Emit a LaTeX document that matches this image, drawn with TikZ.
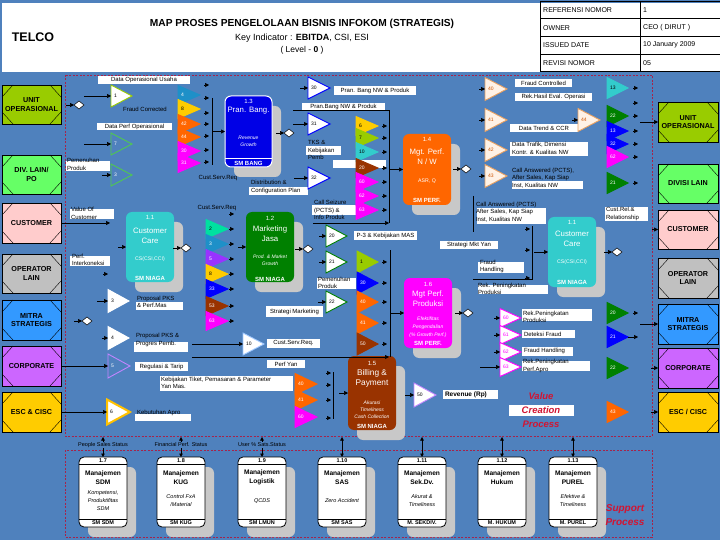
\documentclass[tikz,border=0pt]{standalone}
\usepackage{fontspec}
\setmainfont{Liberation Sans}
\usetikzlibrary{arrows.meta,shapes.geometric}
\definecolor{bgblue}{RGB}{79,129,189}
\definecolor{dashred}{RGB}{165,35,75}
\definecolor{ygreen}{RGB}{153,204,0}
\definecolor{lgreen}{RGB}{102,255,102}
\definecolor{pinkc}{RGB}{255,204,204}
\definecolor{grayc}{RGB}{192,192,192}
\definecolor{mitra}{RGB}{51,153,255}
\definecolor{purp}{RGB}{204,102,255}
\definecolor{goldc}{RGB}{255,204,0}
\definecolor{pblue}{RGB}{0,0,230}
\definecolor{orangec}{RGB}{255,102,0}
\definecolor{tealc}{RGB}{51,204,204}
\definecolor{dgreen}{RGB}{0,128,0}
\definecolor{magc}{RGB}{255,0,255}
\definecolor{brownc}{RGB}{153,51,0}
\definecolor{shadowg}{RGB}{200,200,200}
\definecolor{cyanb}{RGB}{30,144,200}
\definecolor{aquac}{RGB}{0,224,160}
\definecolor{violetc}{RGB}{153,51,255}
\definecolor{bluec}{RGB}{0,0,255}
\definecolor{peach}{RGB}{255,242,230}
\definecolor{tanc}{RGB}{232,160,96}
\definecolor{redtxt}{RGB}{210,20,50}
\definecolor{lgreen2}{RGB}{80,200,80}
\definecolor{lblue}{RGB}{160,200,255}
\newcommand{\entbox}[7]{%
  \path[draw=black,fill=#6,line width=0.7pt] (#2,#3) rectangle (#4,#5);
  \draw[line width=0.4pt] (#2,#3+12) -- (#2+11,#3) (#4-11,#3) -- (#4,#3+12) (#4,#5-12) -- (#4-11,#5) (#2+11,#5) -- (#2,#5-12);
  \coordinate (#1-e) at (#4,{(#3+#5)/2});
  \coordinate (#1-w) at (#2,{(#3+#5)/2});
  \node[enttxt] (#1) at ({(#2+#4)/2},{(#3+#5)/2}) {#7};}
\newcommand{\pbox}[6]{%
  \fill[shadowg,rounded corners=6pt] (#2+9,#3+10) rectangle (#4+9,#5+10);
  \node[#6,rounded corners=6pt,minimum width={#4-#2},minimum height={#5-#3},inner sep=0pt,anchor=north west] (#1) at (#2,#3) {};}
\newcommand{\mtri}[9]{%
  \path[fill=#6,line width=0.9pt,line join=miter,draw=#7] (#2,#3-#5/2) -- (#2+#4,#3) -- (#2,#3+#5/2) -- cycle;
  \coordinate (#1-in) at (#2,#3);
  \coordinate (#1-out) at (#2+#4,#3);
  \node[trilab,text=#8,anchor=west] (#1) at (#2+3,#3) {#9};}
\newcommand{\ctri}[6]{\mtri{#1}{#2}{#3}{22}{19}{#4}{#4}{#5}{#6}}
\newcommand{\arhd}[2]{\draw[arr] (#1-5,#2) -- (#1,#2);}
\newcommand{\supbox}[6]{%
  \fill[shadowg,rounded corners=6pt] (#2+9,467) rectangle (#2+57,537);
  \node[draw=black,fill=white,rounded corners=5pt,line width=0.8pt,minimum width=48,minimum height=70,anchor=north west] (#1) at (#2,457) {};
  \draw[line width=0.7pt] (#2,464) -- (#2+48,464) (#2,519) -- (#2+48,519);
  \node[snum] (#1-n) at (#2+24,460.5) {#3};
  \node[stit] (#1-t) at (#2+24,477.5) {#4};
  \node[smet] (#1-m) at (#2+24,501) {#5};
  \node[sown] (#1-o) at (#2+24,523) {#6};}
\begin{document}
\begin{tikzpicture}[x=1pt,y=-1pt,
  every node/.style={inner sep=0pt,outer sep=0pt},
  lbl/.style={font=\fontsize{6}{7.5}\selectfont,align=center,text=black},
  lbll/.style={font=\fontsize{6}{7.5}\selectfont,align=left,text=black,anchor=west},
  trilab/.style={font=\fontsize{5}{6}\selectfont},
  enttxt/.style={font=\bfseries\fontsize{7.2}{8.8}\selectfont,align=center},
  arr/.style={-{Triangle[length=4pt,width=4pt]},line width=0.6pt},
  dbl/.style={{Triangle[length=3.5pt,width=3.5pt]}-{Triangle[length=3.5pt,width=3.5pt]},line width=0.5pt},
  dmd/.style={diamond,draw=black,fill=white,line width=0.5pt,minimum width=10pt,minimum height=8pt},
  pnum/.style={text=white,font=\fontsize{6}{7}\selectfont},
  ptit/.style={text=white,font=\fontsize{7.8}{9.6}\selectfont,align=center},
  pmet/.style={text=white,font=\itshape\fontsize{5}{7}\selectfont,align=center},
  psm/.style={text=white,font=\fontsize{5.2}{6.5}\selectfont},
  pown/.style={text=white,font=\bfseries\fontsize{6}{7}\selectfont},
  snum/.style={font=\bfseries\fontsize{5.5}{6}\selectfont},
  stit/.style={font=\bfseries\fontsize{6.6}{9}\selectfont,align=center},
  smet/.style={font=\itshape\fontsize{5.5}{8}\selectfont,align=center},
  sown/.style={font=\bfseries\fontsize{5.5}{6}\selectfont},
  dframe/.style={draw=dashred,dash pattern=on 2pt off 1.5pt,line width=0.8pt},
  redl/.style={text=redtxt,font=\bfseries\itshape\fontsize{9.5}{14}\selectfont,align=center}]
\fill[bgblue] (0,0) rectangle (720,540);
\useasboundingbox (0,0) rectangle (720,540);
% header
\fill[white] (2,3) rectangle (720,72);
\node[font=\bfseries\fontsize{12.5}{14}\selectfont] (telco) at (33,37) {TELCO};
\node[font=\bfseries\fontsize{10.2}{12}\selectfont] (title) at (302,24) {MAP PROSES PENGELOLAAN BISNIS INFOKOM (STRATEGIS)};
\node[font=\fontsize{9}{10}\selectfont] (kind) at (302,38) {Key Indicator : \textbf{EBITDA}, CSI, ESI};
\node[font=\fontsize{8.5}{10}\selectfont] (lvl) at (302,50) {( Level - \textbf{0} )};
\draw[line width=0.7pt] (540,1) rectangle (720,71);
\draw[line width=0.7pt] (540,18) -- (720,18) (540,36) -- (720,36) (540,54) -- (720,54) (640,1) -- (640,71);
\begin{scope}[every node/.style={font=\fontsize{7}{8}\selectfont,anchor=west,inner sep=0pt}]
\node (r1a) at (543,10) {REFERENSI NOMOR};
\node (r1b) at (643,10) {1};
\node (r2a) at (543,28) {OWNER};
\node (r2b) at (643,28) {CEO ( DIRUT )};
\node (r3a) at (543,45) {ISSUED DATE};
\node (r3b) at (643,45) {10 January 2009};
\node (r4a) at (543,63) {REVISI NOMOR};
\node (r4b) at (643,63) {05};
\end{scope}
% frames
\draw[dframe] (65,75) rectangle (652,436);
\draw[dframe] (65,450) rectangle (652,537);
% entities
\entbox{uoL}{2}{85}{61}{124}{ygreen}{UNIT\\OPERASIONAL}
\entbox{dlL}{2}{155}{61}{194}{lgreen}{DIV. LAIN/\\PO}
\entbox{cuL}{2}{203}{61}{243}{pinkc}{CUSTOMER}
\entbox{olL}{2}{254}{61}{293}{grayc}{OPERATOR\\LAIN}
\entbox{msL}{2}{300}{61}{340}{mitra}{MITRA\\STRATEGIS}
\entbox{coL}{2}{346}{61}{386}{purp}{CORPORATE}
\entbox{esL}{2}{392}{61}{432}{goldc}{ESC \& CISC}
\entbox{uoR}{658}{102}{718}{142}{ygreen}{UNIT\\OPERASIONAL}
\entbox{dlR}{658}{164}{718}{203}{lgreen}{DIVISI LAIN}
\entbox{cuR}{658}{210}{718}{249}{pinkc}{CUSTOMER}
\entbox{olR}{658}{258}{718}{298}{grayc}{OPERATOR\\LAIN}
\entbox{msR}{658}{304}{718}{344}{mitra}{MITRA\\STRATEGIS}
\entbox{coR}{658}{348}{718}{388}{purp}{CORPORATE}
\entbox{esR}{658}{392}{718}{432}{goldc}{ESC / CISC}
% ---------- labels (white boxes) ----------
\fill[white] (98,76) rectangle (190,84);
\node[lbl] (dou) at (144,80) {Data Operasional Usaha};
\node[lbl] (frc) at (145,109) {Fraud Corrected};
\fill[white] (97,123) rectangle (172,130);
\node[lbl] (dpo) at (134.5,126.5) {Data Perf Operasional};
\fill[white] (66,161) rectangle (110,171);
\node[lbll] (pp1) at (67,164.5) {Pemenuhan\\Produk};
\node[lbl] (csr1) at (218,178) {Cust.Serv.Req};
\fill[white] (334,86) rectangle (416,95);
\node[lbl] (pbn1) at (375,90.5) {Pran. Bang NW \& Produk};
\fill[white] (302,103) rectangle (385,110);
\node[lbl] (pbn2) at (343.5,106.5) {Pran.Bang NW \& Produk};
\fill[white] (306,146) rectangle (341,155);
\node[lbll] (tks) at (308,150) {TKS \&\\Kebijakan\\Pemb};
\fill[white] (333,160) rectangle (386,168);
\fill[white] (249,187) rectangle (308,195);
\node[lbll] (dcp) at (251,187) {Distribution \&\\Configuration Plan};
\fill[white] (312,205) rectangle (356,215);
\node[lbll] (cse) at (314,210) {Call Seizure\\(PCTS) \&\\Info Produk};
\fill[white] (70,209) rectangle (114,219);
\node[lbll] (voc) at (71,213.5) {Value Of\\Customer};
\fill[white] (70,256) rectangle (110,266);
\node[lbll] (pik) at (72,260) {Perf.\\Interkoneksi};
\node[lbl] (csr2) at (217,208) {Cust.Serv.Req};
\fill[white] (354,231) rectangle (417,240);
\node[lbl] (p3k) at (385.5,235.5) {P-3 \& Kebijakan MAS};
\fill[white] (317,278) rectangle (356,289);
\node[lbll] (pp2) at (318,283) {Pemenuhan\\Produk};
\fill[white] (266,306) rectangle (323,317);
\node[lbl] (smk) at (294.5,311.5) {Strategi Marketing};
\fill[white] (136,302) rectangle (183,310);
\node[lbll] (ppk) at (137,302) {Proposal PKS\\\& Perf.Mas};
\fill[white] (134,342) rectangle (188,352);
\node[lbll] (ppg) at (136,340) {Proposal PKS \&\\Progres Pemb.};
\fill[white] (267,339) rectangle (320,348);
\node[lbl] (csr3) at (293.5,343.5) {Cust.Serv.Req.};
\fill[white] (135,362) rectangle (188,371);
\node[lbl] (reg) at (161.5,366.5) {Regulasi \& Tarip};
\fill[white] (267,360) rectangle (305,368);
\node[lbl] (pyan) at (286,364) {Perf Yan};
\fill[white] (160,376) rectangle (293,391);
\node[lbll] (kbj) at (161,383) {Kebijakan Tiket, Pemasaran \& Parameter\\Yan Mas.};
\fill[white] (135,414) rectangle (191,421);
\node[lbll] (kapro) at (137,413) {Kebutuhan Apro};
\fill[white] (443,390) rectangle (498,399);
\node[lbll,font=\bfseries\fontsize{6.5}{7}\selectfont] (rev) at (445,394.5) {Revenue (Rp)};
\fill[white] (515,79) rectangle (572,87);
\node[lbl] (fcd) at (543.5,83) {Fraud Controlled};
\fill[white] (515,93) rectangle (592,101);
\node[lbl] (rhe) at (553.5,97) {Rek.Hasil Eval. Operasi};
\fill[white] (510,124) rectangle (578,132);
\node[lbl] (dtc) at (544,128) {Data Trend \& CCR};
\fill[white] (510,142) rectangle (588,156);
\node[lbll] (dtd) at (512,148.5) {Data Trafik, Dimensi\\Kontr. \& Kualitas NW};
\fill[white] (512,181) rectangle (583,189);
\node[lbll] (ca1) at (512,178) {Call Answered (PCTS),\\After Sales, Kap Siap\\Inst, Kualitas NW};
\fill[white] (477,208) rectangle (546,224);
\node[lbll] (ca2) at (476,212) {Call Answered (PCTS)\\After Sales, Kap Siap\\Inst, Kualitas NW};
\fill[white] (605,207) rectangle (648,221);
\node[lbll] (crr) at (606,214) {Cust.Rel.\&\\Relationship};
\fill[white] (440,241) rectangle (498,249);
\node[lbl] (smy) at (469,245) {Strategi Mkt Yan};
\fill[white] (478,262) rectangle (524,273);
\node[lbll] (fh1) at (480,266.5) {Fraud\\Handling};
\fill[white] (478,285) rectangle (548,294);
\node[lbll] (rpp) at (478,289) {Rek. Peningkatan\\Produksi};
\fill[white] (522,309) rectangle (592,321);
\node[lbll] (rpp2) at (523,317) {Rek.Peningkatan\\Produksi};
\fill[white] (522,330) rectangle (575,338);
\node[lbll] (dfr) at (524,334) {Deteksi Fraud};
\fill[white] (522,347) rectangle (573,356);
\node[lbll] (fh2) at (524,351) {Fraud Handling};
\fill[white] (522,361) rectangle (590,371);
\node[lbll] (rpa) at (523,366) {Rek.Peningkatan\\Perf.Apro};
\fill[white] (509,405) rectangle (574,416);
\node[redl] (vcp) at (541,410) {Value\\Creation\\Process};
% ---------- process boxes ----------
\pbox{p13}{225}{96}{272}{167}{fill=pblue,draw=white,line width=1pt}
\draw[white,line width=0.8pt] (225,158) -- (272,158);
\node[pnum] (p13n) at (248.5,101) {1.3};
\node[ptit] (p13t) at (248.5,111) {Pran. Bang.};
\node[pmet] (p13m) at (248.5,141) {Revenue\\Growth};
\node[pown] (p13o) at (248.5,163) {SM BANG};
\pbox{p14}{403}{134}{451}{205}{fill=orangec}
\node[pnum] (p14n) at (427,139) {1.4};
\node[ptit] (p14t) at (427,157) {Mgt. Perf.\\N / W};
\node[psm] (p14m) at (427,181) {ASR, Q};
\node[pown] (p14o) at (427,200) {SM PERF.};
\pbox{p11L}{126}{212}{174}{282}{fill=tealc}
\node[pnum] (p11Ln) at (150,217) {1.1};
\node[ptit] (p11Lt) at (150,236) {Customer\\Care};
\node[psm] (p11Lm) at (150,259) {CS(CSI,CCI)};
\node[pown] (p11Lo) at (150,278) {SM NIAGA};
\pbox{p12}{246}{212}{294}{282}{fill=dgreen}
\node[pnum] (p12n) at (270,218) {1.2};
\node[ptit] (p12t) at (270,234) {Marketing\\Jasa};
\node[pmet] (p12m) at (270,260.5) {Prod. \& Market\\Growth};
\node[pown] (p12o) at (270,279) {SM NIAGA};
\pbox{p11R}{548}{217}{596}{287}{fill=tealc}
\node[pnum] (p11Rn) at (572,222) {1.1};
\node[ptit] (p11Rt) at (572,239) {Customer\\Care};
\node[psm] (p11Rm) at (572,262) {CS(CSI,CCI)};
\node[pown] (p11Ro) at (572,282) {SM NIAGA};
\pbox{p16}{404}{278}{452}{348}{fill=magc}
\node[pnum] (p16n) at (428,284) {1.6};
\node[ptit] (p16t) at (428,298.5) {Mgt Perf.\\Produksi};
\node[pmet,font=\itshape\fontsize{5}{8}\selectfont] (p16m) at (428,327) {Efektifitas\\Pengendalian\\(\% Growth Perf.)};
\node[pown] (p16o) at (428,343) {SM PERF.};
\pbox{p15}{348}{356}{396}{430}{fill=brownc}
\node[pnum] (p15n) at (372,363) {1.5};
\node[ptit,font=\fontsize{8.3}{10}\selectfont] (p15t) at (372,378) {Billing \&\\Payment};
\node[pmet] (p15m) at (372,409.5) {Akurasi\\Timeliness\\Cash Collection};
\node[pown] (p15o) at (372,426) {SM NIAGA};
% ---------- support boxes ----------
\supbox{s17}{79}{1.7}{Manajemen\\SDM}{Kompetensi,\\Produktifitas\\SDM}{SM SDM}
\supbox{s18}{157}{1.8}{Manajemen\\KUG}{Control FxA\\/Material}{SM KUG}
\supbox{s19}{238}{1.9}{Manajemen\\Logistik}{QCDS}{SM LMUN}
\supbox{s110}{318}{1.10}{Manajemen\\SAS}{Zero Accident}{SM SAS}
\supbox{s111}{398}{1.11}{Manajemen\\Sek.Dv.}{Akurat \&\\Timeliness}{M. SEKDIV.}
\supbox{s112}{478}{1.12}{Manajemen\\Hukum}{}{M. HUKUM}
\supbox{s113}{549}{1.13}{Manajemen\\PUREL}{Efektive \&\\Timeliness}{M. PUREL}
\node[redl,font=\bfseries\itshape\fontsize{10}{14}\selectfont] (spp) at (625,515) {Support\\Process};
\foreach \s in {s17,s18,s19,s110,s111,s112,s113}{\draw[dbl] (\s.north) ++(0,-20) -- (\s.north);}
\fill[bgblue] (78,442) rectangle (128,448);
\node[lbl,font=\fontsize{5.5}{6}\selectfont] (pss) at (103,445) {People Sales Status};
\fill[bgblue] (151,442) rectangle (211,448);
\node[lbl,font=\fontsize{5.5}{6}\selectfont] (fps) at (181,445) {Financial Perf. Status};
\fill[bgblue] (236,442) rectangle (288,448);
\node[lbl,font=\fontsize{5.5}{6}\selectfont] (uss) at (262,445) {User \% Sats.Status};
% ---------- triangles ----------
\mtri{t1}{111}{96}{21}{22}{white}{ygreen}{black}{1}
\mtri{t7}{111}{144}{21}{22}{none}{lgreen2}{white}{7}
\mtri{t3a}{111}{175}{21}{22}{none}{lgreen2}{white}{3}
\mtri{t3b}{108}{301}{21}{23}{white}{white}{black}{3}
\mtri{t4}{108}{338}{21}{23}{white}{white}{black}{4}
\mtri{t5}{108}{366}{22}{24}{none}{violetc!60!white}{white}{5}
\mtri{t6}{107}{412}{23}{25}{white}{goldc!85!orange,line width=2pt}{black}{6}
\ctri{c4}{178}{95}{cyanb}{white}{4}
\ctri{c8}{178}{109}{goldc}{black}{8}
\ctri{c42}{178}{124}{orangec}{white}{42}
\ctri{c44}{178}{137}{orangec}{white}{44}
\ctri{c30}{178}{151}{magc}{white}{30}
\ctri{c31}{178}{163}{magc}{white}{31}
\ctri{c2}{206}{229}{aquac}{black}{2}
\ctri{c3}{206}{244}{cyanb}{white}{3}
\ctri{c5}{206}{259}{violetc}{white}{5}
\ctri{c8b}{206}{274}{goldc}{black}{8}
\ctri{c33}{206}{289}{bluec}{white}{33}
\ctri{c53}{206}{306}{brownc}{white}{53}
\ctri{c63}{206}{321}{magc}{white}{63}
\mtri{t30}{308}{88}{22}{22}{white}{bluec}{black}{30}
\mtri{t31}{308}{124}{22}{22}{white}{bluec}{black}{31}
\mtri{t32}{308}{178}{22}{22}{white}{bluec}{black}{32}
\ctri{c6}{356}{126}{goldc}{black}{6}
\ctri{c7}{356}{138}{ygreen}{black}{7}
\ctri{c10}{356}{152}{tealc}{black}{10}
\ctri{c20}{356}{168}{brownc}{white}{20}
\ctri{c60}{356}{182}{magc}{white}{60}
\ctri{c62}{356}{196}{magc}{white}{62}
\ctri{c63b}{356}{210}{magc}{white}{63}
\mtri{t20}{326}{236}{21}{22}{white}{dgreen}{black}{20}
\mtri{t21}{326}{262}{21}{22}{white}{dgreen}{black}{21}
\mtri{t22}{326}{302}{21}{22}{white}{dgreen}{black}{22}
\mtri{c1}{357}{262}{21}{22}{ygreen}{ygreen}{black}{1}
\mtri{c30b}{357}{283}{21}{22}{bluec}{bluec}{white}{30}
\mtri{c40}{357}{302}{21}{22}{orangec}{orangec}{white}{40}
\mtri{c41}{357}{323}{21}{22}{orangec}{orangec}{white}{41}
\mtri{c50}{357}{344}{21}{22}{brownc}{brownc}{white}{50}
\mtri{t10}{243}{344}{21}{22}{white}{lblue}{black}{10}
\mtri{c40b}{295}{384}{22}{21}{orangec}{orangec}{white}{40}
\mtri{c41b}{295}{400}{22}{21}{orangec}{orangec}{white}{41}
\mtri{c60b}{295}{417}{22}{21}{magc}{magc}{white}{60}
\mtri{t50}{414}{395}{22}{24}{white}{violetc!60!white}{black}{50}
\mtri{t40}{485}{89}{22}{23}{peach}{tanc}{orangec!80!black}{40}
\mtri{t41}{485}{120}{22}{23}{peach}{tanc}{orangec!80!black}{41}
\mtri{t42}{485}{150}{22}{23}{peach}{tanc}{orangec!80!black}{42}
\mtri{t43}{485}{176}{22}{23}{peach}{tanc}{orangec!80!black}{43}
\mtri{t44}{578}{120}{22}{23}{peach}{tanc}{orangec!80!black}{44}
\mtri{r13a}{607}{88}{21}{21}{tealc}{tealc}{black}{13}
\mtri{r22}{607}{116}{21}{21}{dgreen}{dgreen}{white}{22}
\mtri{r13b}{607}{131}{21}{19}{bluec}{bluec}{white}{13}
\mtri{r32}{607}{144}{21}{19}{bluec}{bluec}{white}{32}
\mtri{r62}{607}{157}{21}{21}{magc}{magc}{white}{62}
\mtri{r21}{607}{183}{21}{21}{dgreen}{dgreen}{white}{21}
\mtri{r20}{607}{313}{21}{21}{dgreen}{dgreen}{white}{20}
\mtri{r21b}{607}{337}{21}{21}{bluec}{bluec}{white}{21}
\mtri{r22b}{607}{368}{21}{21}{dgreen}{dgreen}{white}{22}
\mtri{r43}{607}{412}{21}{21}{orangec}{orangec}{white}{43}
\mtri{t60}{500}{318}{21}{19}{white}{magc}{magc}{60}
\mtri{t61}{500}{335}{21}{19}{white}{magc}{magc}{61}
\mtri{t62}{500}{352}{21}{19}{white}{magc}{magc}{62}
\mtri{t63}{500}{367}{21}{19}{white}{magc}{magc}{63}
% ---------- diamonds ----------
\node[dmd] (dUO) at (79,105) {};
\node[dmd] (d13) at (289,133) {};
\node[dmd] (d14) at (466,169) {};
\node[dmd] (d11L) at (186,248) {};
\node[dmd] (d12) at (308,249) {};
\node[dmd] (dMS) at (87,321) {};
\node[dmd] (d16) at (468,313) {};
\node[dmd] (d11R) at (617,252) {};
\foreach \d in {dUO,d13,d14,d11L,d12,dMS,d16,d11R}{\draw[arr] (\d.west) ++(-8,0) -- (\d.west);}
% ---------- connectors ----------
\draw[arr] (t1-in) ++(-27,0) -- (t1-in);
\draw[arr] (t7-in) ++(-27,0) -- (t7-in);
\draw[arr] (t3a-in) ++(-9,0) -- (t3a-in);
\draw[arr] (cuL-e) -- ++(49,0);
\arhd{108}{274}
\draw[arr] (p11L.west) ++(-8,0) -- (p11L.west);
\draw[arr] (t3b-in) ++(-11,0) -- (t3b-in);
\draw[arr] (t4-in) ++(-6,0) -- (t4-in);
\draw[arr] (coL-e) -- (t5-in);
\draw[arr] (esL-e) -- (t6-in);
\draw[arr] (t10-in) ++(-51,0) -- (t10-in);
\draw[arr] (192,357) -- (389,357);
% left stack
\foreach \yy in {85,98,113,124,136,150,162}{\arhd{209}{\yy}}
\draw[line width=0.6pt] (212,98) -- (212,165);
\draw[arr] (p13.west) ++(-13,0) -- (p13.west);
% left-middle stack
\foreach \yy in {214,229,244,259,274,289,306,321}{\arhd{234}{\yy}}
\draw[arr] (p12.west) ++(-8,0) -- (p12.west);
% upper middle
\draw[arr] (t30-in) ++(-8,0) -- (t30-in);
\draw[arr] (t31-in) ++(-15,0) -- (t31-in);
\draw[arr] (t32-in) ++(-14,0) -- (t32-in);
\draw[line width=0.6pt] (293,110) -- (389,110) -- (389,223);
\foreach \yy in {126,138,152,168,182,196,210}{\arhd{387}{\yy}}
\draw[arr] (313,223) -- (389,223);
\draw[arr] (p14.west) ++(-14,0) -- (p14.west);
% middle lower
\draw[arr] (t20-in) ++(-7,0) -- (t20-in);
\draw[arr] (t21-in) ++(-7,0) -- (t21-in);
\draw[arr] (t22-in) ++(-8,0) -- (t22-in);
\foreach \yy in {262,283,302,323,344}{\arhd{387}{\yy}}
\draw[line width=0.6pt] (390,250) -- (390,357);
\draw[arr] (p16.west) ++(-14,0) -- (p16.west);
% billing
\draw[line width=0.6pt] (333,372) -- (333,419);
\foreach \yy in {373,385,400,418}{\arhd{331}{\yy}}
\draw[arr] (p15.west) ++(-9,0) -- (p15.west);
\draw[arr] (t50-in) ++(-9,0) -- (t50-in);
% right top
\foreach \tt in {t40,t41,t42,t43,t44}{\draw[arr] (\tt-in) ++(-6,0) -- (\tt-in);}
\foreach \yy in {88,103,116,131,144,157,183}{\arhd{638}{\yy}}
\draw[arr] (uoR-w) ++(-18,0) -- (uoR-w);
% right customer care
\draw[line width=0.6pt] (473,196) -- (473,232);
\draw[line width=0.6pt] (532,226) -- (532,280);
\draw[line width=0.6pt] (473,279) -- (532,279);
\foreach \yy in {229,250,278}{\arhd{530}{\yy}}
\draw[arr] (p11R.west) ++(-14,0) -- (p11R.west);
\draw[arr] (cuR-w) ++(-6,0) -- (cuR-w);
% right lower
\foreach \tt in {t60,t61,t62}{\draw[arr] (\tt-in) ++(-6,0) -- (\tt-in);}
\draw[arr] (t63-in) ++(-20,0) -- (t63-in);
\arhd{638}{313}
\draw[arr] (r21b-out) -- ++(10,0);
\draw[arr] (msR-w) ++(-18,0) -- (msR-w);
\draw[arr] (coR-w) ++(-7,0) -- (coR-w);
\draw[arr] (esR-w) ++(-7,0) -- (esR-w);
\end{tikzpicture}
\end{document}
